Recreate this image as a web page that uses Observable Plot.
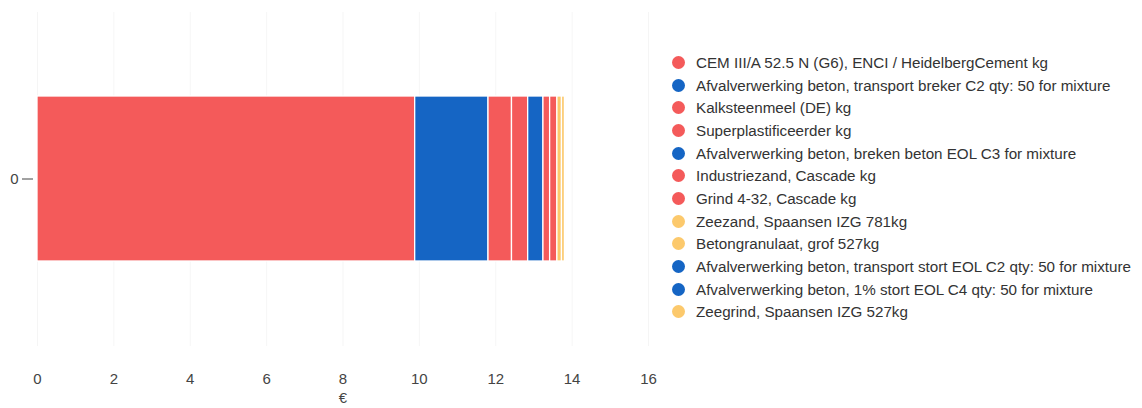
<!DOCTYPE html>
<html>
<head>
<meta charset="utf-8">
<script src="https://cdn.jsdelivr.net/npm/d3@7"></script>
<script src="https://cdn.jsdelivr.net/npm/@observablehq/plot@0.6"></script>
<style>
  html, body { margin: 0; padding: 0; background: #fff; }
  #wrap { position: relative; width: 1142px; height: 408px; font-family: "Liberation Sans", Arial, sans-serif; }
  #chart { position: absolute; left: 0; top: 0; }
  #legend { position: absolute; left: 672px; top: 51px; font-size: 15.2px; color: #333; }
  .row { display: flex; align-items: center; height: 22.7px; white-space: nowrap; }
  .dot { width: 13px; height: 13px; border-radius: 50%; margin-right: 11px; flex: none; }
</style>
</head>
<body>
<div id="wrap"><div id="chart"></div><div id="legend"></div></div>
<script>
const names = [
  "CEM III/A 52.5 N (G6), ENCI / HeidelbergCement kg",
  "Afvalverwerking beton, transport breker C2 qty: 50 for mixture",
  "Kalksteenmeel (DE) kg",
  "Superplastificeerder kg",
  "Afvalverwerking beton, breken beton EOL C3 for mixture",
  "Industriezand, Cascade kg",
  "Grind 4-32, Cascade kg",
  "Zeezand, Spaansen IZG 781kg",
  "Betongranulaat, grof 527kg",
  "Afvalverwerking beton, transport stort EOL C2 qty: 50 for mixture",
  "Afvalverwerking beton, 1% stort EOL C4 qty: 50 for mixture",
  "Zeegrind, Spaansen IZG 527kg"
];
const values = [9.89, 1.92, 0.615, 0.424, 0.40, 0.175, 0.19, 0.12, 0.08, 0.02, 0.012, 0.03];
const groups = ["g1","g2","g1","g1","g2","g1","g1","g3","g3","g2","g2","g3"];
const groupDomain = ["g1","g2","g3"];
const groupColors = ["#f45a5a", "#1565c4", "#fcc96c"];
const category = "0";
const xTicks = [0, 2, 4, 6, 8, 10, 12, 14, 16];

const data = names.map((n, i) => ({name: n, value: values[i], group: groups[i], cat: category}));

const plot = Plot.plot({
  width: 660,
  height: 408,
  marginLeft: 37,
  marginRight: 12,
  marginTop: 12,
  marginBottom: 62,
  style: {fontFamily: "Liberation Sans, Arial, sans-serif", fontSize: "15px", color: "#444", background: "#fff"},
  x: {domain: [0, 16], ticks: xTicks, label: "€", labelArrow: "none"},
  y: {domain: [category], padding: 0.337},
  color: {type: "ordinal", domain: groupDomain, range: groupColors},
  marks: [
    Plot.gridX(xTicks, {stroke: "#000", strokeOpacity: 0.04}),
    Plot.barX(data, Plot.stackX({x: "value", y: "cat", fill: "group", stroke: "#fff", strokeWidth: 1.3, order: null})),
    Plot.axisX(xTicks, {tickSize: 0, tickPadding: 27, label: "€", labelArrow: "none", labelAnchor: "center", labelOffset: 56, fontSize: 15}),
    Plot.axisY({tickSize: 11, dx: -4, tickPadding: 4, label: null, fontSize: 15})
  ]
});
document.getElementById("chart").appendChild(plot);

const legend = document.getElementById("legend");
names.forEach((n, i) => {
  const row = document.createElement("div");
  row.className = "row";
  const dot = document.createElement("span");
  dot.className = "dot";
  dot.style.background = groupColors[groupDomain.indexOf(groups[i])];
  const t = document.createElement("span");
  t.textContent = n;
  row.appendChild(dot); row.appendChild(t);
  legend.appendChild(row);
});
</script>
</body>
</html>
